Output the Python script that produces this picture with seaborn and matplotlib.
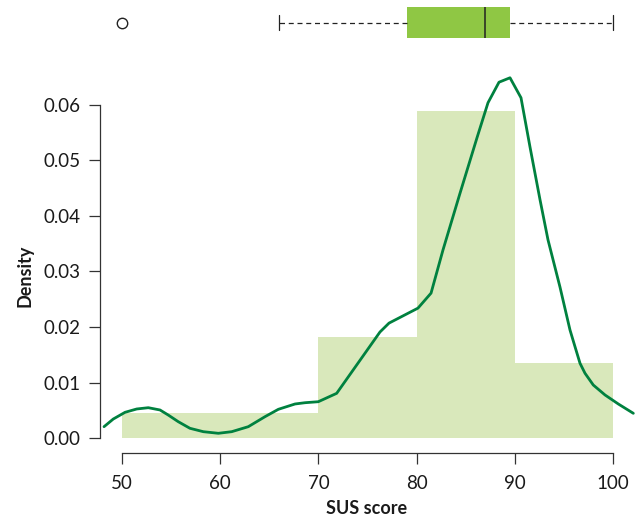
import numpy as np
import pandas as pd
import matplotlib
matplotlib.use("Agg")
import matplotlib.pyplot as plt
import seaborn as sns

# ---- data ----
bin_edges = [50, 60, 70, 80, 90, 100]
bin_density = [0.00456, 0.00456, 0.0182, 0.0589, 0.0136]

scores = [50, 66, 72.5, 75, 77.5, 78, 82, 85, 86, 86.5, 87, 87, 88, 88.5, 89,
          89.5, 89.5, 90, 90, 92.5, 95, 100]

kde_x = [48.17, 49.11, 50.31, 51.50, 52.68, 53.87, 54.71, 55.73, 56.92, 58.28,
         59.81, 61.17, 62.86, 64.56, 65.92, 67.62, 68.64, 69.99, 71.86, 76.27,
         77.19, 80.14, 81.47, 82.69, 84.42, 86.15, 87.27, 88.39, 89.51, 90.63,
         91.55, 92.57, 93.38, 94.60, 95.62, 96.13, 96.64, 97.15, 97.99, 99.19,
         100.54, 102.07]
kde_y = [0.00204, 0.00342, 0.00463, 0.00523, 0.00546, 0.00505, 0.00414, 0.00294,
         0.00175, 0.00114, 0.00085, 0.00114, 0.00204, 0.00384, 0.00517, 0.00613,
         0.00636, 0.00654, 0.00805, 0.0191, 0.0207, 0.0234, 0.0261, 0.0339,
         0.0441, 0.0541, 0.0604, 0.0641, 0.0649, 0.0613, 0.0524, 0.0429, 0.0357,
         0.0272, 0.01946, 0.01645, 0.01346, 0.01166, 0.00955, 0.00775, 0.00613,
         0.00445]

x_ticks = [50, 60, 70, 80, 90, 100]
y_ticks = [0.00, 0.01, 0.02, 0.03, 0.04, 0.05, 0.06]

# ---- style ----
sns.set_style("white")
plt.rcParams["font.family"] = ["Lato", "DejaVu Sans"]

W, H = 643, 520
fig = plt.figure(figsize=(W / 100, H / 100), dpi=100)

left_px, right_px = 100, 635.6
top_px, bot_px = 70, 453
ax = fig.add_axes([left_px / W, 1 - bot_px / H, (right_px - left_px) / W,
                   (bot_px - top_px) / H])
axb = fig.add_axes([left_px / W, 1 - 45 / H, (right_px - left_px) / W, 45 / H])

xlim = (47.76, 102.3)

mids = [(a + b) / 2 for a, b in zip(bin_edges[:-1], bin_edges[1:])]
sns.histplot(x=mids, weights=bin_density, bins=bin_edges, stat="count",
             color="#d9e8bb", alpha=1, linewidth=0, shrink=1, ax=ax)
sns.lineplot(x=kde_x, y=kde_y, color="#00813f", linewidth=2.0, sort=False,
             estimator=None, ax=ax)

ax.set_xlim(*xlim)
ax.set_ylim(-0.0027, 0.0663)
ax.set_xticks(x_ticks)
ax.set_xticklabels([str(t) for t in x_ticks])
ax.set_yticks(y_ticks)
ax.set_yticklabels([f"{t:.2f}" for t in y_ticks])
for s in ["top", "right"]:
    ax.spines[s].set_visible(False)
ax.spines["left"].set_bounds(0, 0.06)
ax.spines["bottom"].set_bounds(50, 100)
for s in ["left", "bottom"]:
    ax.spines[s].set_color("#333333")
    ax.spines[s].set_linewidth(0.9)
ax.tick_params(axis="both", which="both", bottom=True, left=True, length=8,
               width=0.9, color="#333333", labelsize=13.5, labelcolor="#1a1a1a",
               direction="out")
ax.tick_params(axis="x", pad=8)
ax.tick_params(axis="y", pad=6)
ax.set_xlabel("SUS score", fontsize=13, fontweight="bold", color="#1a1a1a")
ax.set_ylabel("Density", fontsize=13, fontweight="bold", color="#1a1a1a")
ax.xaxis.set_label_coords((367 - left_px) / (right_px - left_px),
                          (bot_px - 508) / (bot_px - top_px))
ax.xaxis.label.set_va("center")
ax.yaxis.set_label_coords((25 - left_px) / (right_px - left_px),
                          (bot_px - 276) / (bot_px - top_px))
ax.yaxis.label.set_va("center")

# ---- boxplot ----
sns.boxplot(x=scores, orient="h", ax=axb, color="#8fc744", saturation=1,
            width=0.69, whis=1.5,
            boxprops=dict(edgecolor="none", linewidth=0),
            whiskerprops=dict(linestyle=(0, (4, 3)), color="#222222", linewidth=0.9),
            capprops=dict(color="#222222", linewidth=0.9),
            medianprops=dict(color="#222222", linewidth=1.1),
            flierprops=dict(marker="o", markerfacecolor="none",
                            markeredgecolor="#222222", markersize=7.5,
                            markeredgewidth=1.0))
axb.set_xlim(*xlim)
axb.set_ylim(0.5, -0.5)
axb.set_axis_off()

fig.savefig("out.png", dpi=100)
